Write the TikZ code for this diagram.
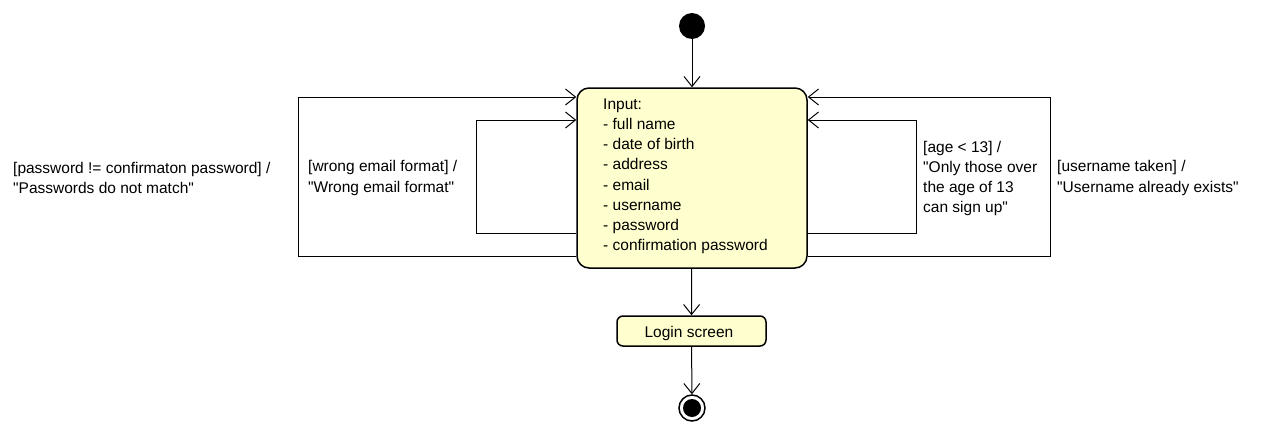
\documentclass[tikz,border=0pt]{standalone}
\usepackage{fontspec}
\setmainfont{Liberation Sans}[Ligatures=TeXOff]
\usetikzlibrary{arrows.meta}
\definecolor{statefill}{HTML}{FEFECE}
\tikzset{
  state/.style={draw=black, line width=1.5pt, fill=statefill, rounded corners=12pt},
  arr/.style={draw=black, line width=1pt, -{Straight Barb[length=10pt,width=16pt,line width=1pt]}},
  lbl/.style={anchor=west, align=left, inner sep=0pt, font=\fontsize{15.5}{20.2}\selectfont},
}
\begin{document}
\begin{tikzpicture}[x=1pt,y=-1pt]
\useasboundingbox (0,0) rectangle (1264,434);
% start
\node[circle, fill=black, minimum size=26pt, inner sep=0pt] (start) at (692,26) {};
% main state
\node[state, minimum width=230pt, minimum height=180pt, inner sep=0pt] (input) at (692,178) {};
\node[lbl, anchor=north west] (inputtext) at (603,98.5) {Input:\\- full name\\- date of birth\\- address\\- email\\- username\\- password\\- confirmation password};
% login
\node[state, rounded corners=6pt, minimum width=149pt, minimum height=30pt, inner sep=0pt] (login) at (691.5,331) {};
\node[lbl, anchor=center] (logintext) at (689,333) {Login screen};
% end
\node[circle, draw=black, line width=1.5pt, fill=white, minimum size=26pt, inner sep=0pt] (end) at (692,408) {};
\node[circle, fill=black, minimum size=18pt, inner sep=0pt] (endin) at (692,408) {};
% main flow
\draw[arr] (start) -- (input);
\draw[arr] (input) -- (login);
\draw[arr] (login) -- (end);
% loops
\draw[arr] ([yshift=-78pt]input.west) -| (298,97) -- ([yshift=81pt]input.west);
\draw[arr] ([yshift=-55pt]input.west) -| (476,120) -- ([yshift=58pt]input.west);
\draw[arr] ([yshift=-55pt]input.east) -| (916,120) -- ([yshift=58pt]input.east);
\draw[arr] ([yshift=-78pt]input.east) -| (1050,97) -- ([yshift=81pt]input.east);
% labels
\node[lbl] (l1) at (13,178) {[password != confirmaton password] /\\"Passwords do not match"};
\node[lbl] (l2) at (308,178) {[wrong email format] /\\"Wrong email format"};
\node[lbl] (l3) at (923,178.5) {[age < 13] /\\"Only those over\\the age of 13\\can sign up"};
\node[lbl] (l4) at (1057,178) {[username taken] /\\"Username already exists"};
\end{tikzpicture}
\end{document}
